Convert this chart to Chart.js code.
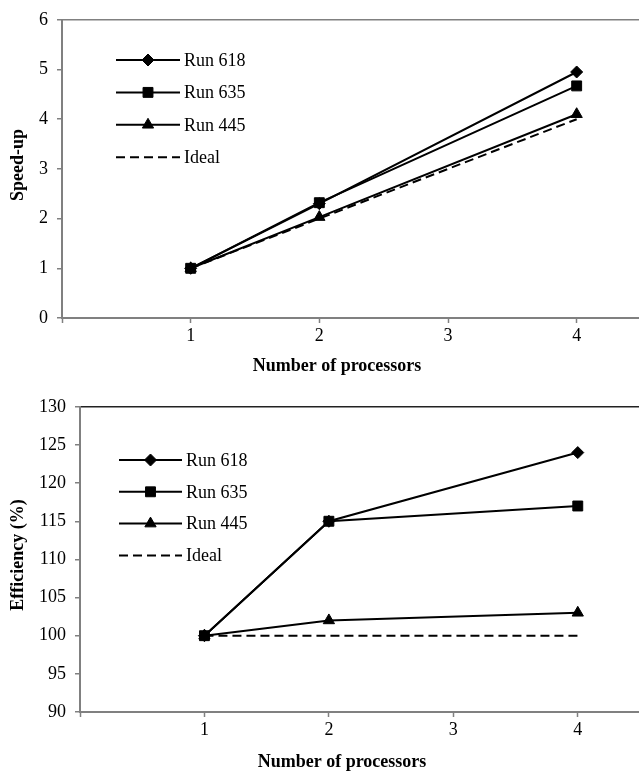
<!DOCTYPE html>
<html>
<head>
<meta charset="utf-8">
<script src="https://cdn.jsdelivr.net/npm/chart.js@4/dist/chart.umd.min.js"></script>
<style>
  body { margin: 0; background: #fff; overflow: hidden; width: 639px; height: 774px; position: relative; }
  canvas { position: absolute; left: 0; }
  #speedup { top: 0; }
  #efficiency { top: 387px; }
</style>
</head>
<body>
<canvas id="speedup" width="649" height="387"></canvas>
<canvas id="efficiency" width="648" height="387"></canvas>
<script>
const processors = [1, 2, 4];

const speedup618 = [1, 2.3, 4.95];
const speedup635 = [1, 2.32, 4.67];
const speedup445 = [1, 2.03, 4.1];
const speedupIdeal = [1, 2, 4];

const eff618 = [100, 115, 124];
const eff635 = [100, 115, 117];
const eff445 = [100, 102, 103];
const effIdeal = [100, 100, 100];

const seriesNames = ['Run 618', 'Run 635', 'Run 445', 'Ideal'];
const markers = ['rectRot', 'rect', 'triangle', false];
const markerSizes = [6, 7, 6.5, 0];

Chart.defaults.font.family = '"Liberation Serif", "Times New Roman", serif';
Chart.defaults.font.size = 18;
Chart.defaults.color = '#000';

const AXIS = '#808080';

const pts = (ys) => processors.map((x, i) => ({ x, y: ys[i] }));

function makeDatasets(series) {
  return series.map((ys, i) => ({
    label: seriesNames[i],
    data: pts(ys),
    borderColor: '#000',
    backgroundColor: '#000',
    pointBorderColor: '#000',
    pointBackgroundColor: '#000',
    borderWidth: 2,
    borderDash: markers[i] ? [] : [9, 5],
    pointStyle: markers[i] || 'circle',
    pointRadius: markerSizes[i],
    pointHoverRadius: markerSizes[i],
    pointBorderWidth: 1,
    tension: 0,
    // squares sit on top, like the original
    order: i === 1 ? 0 : i + 1,
  }));
}

// legend drawn inside the plot area
const insideLegend = {
  id: 'insideLegend',
  afterDraw(chart, args, opts) {
    const ctx = chart.ctx;
    ctx.save();
    chart.data.datasets.forEach((ds, i) => {
      const y = opts.y + i * opts.gap;
      ctx.beginPath();
      ctx.strokeStyle = ds.borderColor;
      ctx.lineWidth = ds.borderWidth;
      ctx.setLineDash(ds.borderDash || []);
      ctx.moveTo(opts.x, y);
      ctx.lineTo(opts.x + opts.len, y);
      ctx.stroke();
      ctx.setLineDash([]);
      if (ds.pointRadius > 0 && Chart.helpers && Chart.helpers.drawPoint) {
        ctx.fillStyle = ds.backgroundColor;
        ctx.strokeStyle = ds.borderColor;
        ctx.lineWidth = 1;
        Chart.helpers.drawPoint(ctx, { pointStyle: ds.pointStyle, radius: ds.pointRadius, rotation: 0, borderWidth: 1 }, opts.x + opts.len / 2, y);
      }
      ctx.fillStyle = '#000';
      ctx.font = '18px "Liberation Serif", "Times New Roman", serif';
      ctx.textAlign = 'left';
      ctx.textBaseline = 'middle';
      ctx.fillText(ds.label, opts.x + opts.len + 4, y + 1);
    });
    ctx.restore();
  }
};

const axisTitles = {
  id: 'axisTitles',
  afterDraw(chart, args, opts) {
    const ctx = chart.ctx;
    ctx.save();
    ctx.fillStyle = '#000';
    ctx.font = 'bold 18px "Liberation Serif", "Times New Roman", serif';
    ctx.textAlign = 'center';
    ctx.textBaseline = 'middle';
    ctx.fillText(opts.x.text, opts.x.cx, opts.x.cy);
    ctx.translate(opts.y.cx, opts.y.cy);
    ctx.rotate(-Math.PI / 2);
    ctx.fillText(opts.y.text, 0, 0);
    ctx.restore();
  }
};

function makeChart(id, series, yCfg, layout) {
  return new Chart(document.getElementById(id), {
    type: 'line',
    data: { datasets: makeDatasets(series) },
    plugins: [insideLegend, axisTitles],
    options: {
      responsive: false,
      animation: false,
      events: [],
      layout: { padding: { top: layout.top, left: 0, right: 0, bottom: 0 } },
      plugins: {
        legend: { display: false },
        tooltip: { enabled: false },
        insideLegend: layout.legend,
        axisTitles: layout.titles,
      },
      scales: {
        x: {
          type: 'linear',
          min: 0,
          max: 4.5,
          ticks: {
            stepSize: 1,
            padding: 2,
            callback: (v) => (v === 0 ? '' : v),
          },
          afterBuildTicks: (s) => { s.ticks = s.ticks.filter((t) => Number.isInteger(t.value)); },
          afterFit: (s) => { s.height = layout.xHeight; },
          grid: { drawOnChartArea: false, tickLength: 5, tickColor: AXIS, tickWidth: 1.5 },
          border: { color: AXIS, width: 2 },
        },
        y: {
          min: yCfg.min,
          max: yCfg.max,
          ticks: { stepSize: yCfg.step, padding: 9 },
          afterFit: (s) => { s.width = layout.yWidth; },
          grid: {
            color: (c) => (c.tick && c.tick.value === yCfg.max ? layout.topLine : 'rgba(0,0,0,0)'),
            lineWidth: 1.5,
            tickLength: 5,
            tickColor: AXIS,
            tickWidth: 1.5,
          },
          border: { color: AXIS, width: 2 },
        },
      },
    },
  });
}

makeChart('speedup', [speedup618, speedup635, speedup445, speedupIdeal], { min: 0, max: 6, step: 1 }, {
  top: 15,
  xHeight: 69,
  yWidth: 62,
  topLine: AXIS,
  legend: { x: 116, y: 60, gap: 32.4, len: 64 },
  titles: {
    x: { text: 'Number of processors', cx: 337, cy: 366 },
    y: { text: 'Speed-up', cx: 18, cy: 165 },
  },
});

makeChart('efficiency', [eff618, eff635, eff445, effIdeal], { min: 90, max: 130, step: 5 }, {
  top: 19,
  xHeight: 62,
  yWidth: 80,
  topLine: '#222',
  legend: { x: 119, y: 73, gap: 31.8, len: 63 },
  titles: {
    x: { text: 'Number of processors', cx: 342, cy: 375 },
    y: { text: 'Efficiency (%)', cx: 18, cy: 168 },
  },
});
</script>
</body>
</html>
